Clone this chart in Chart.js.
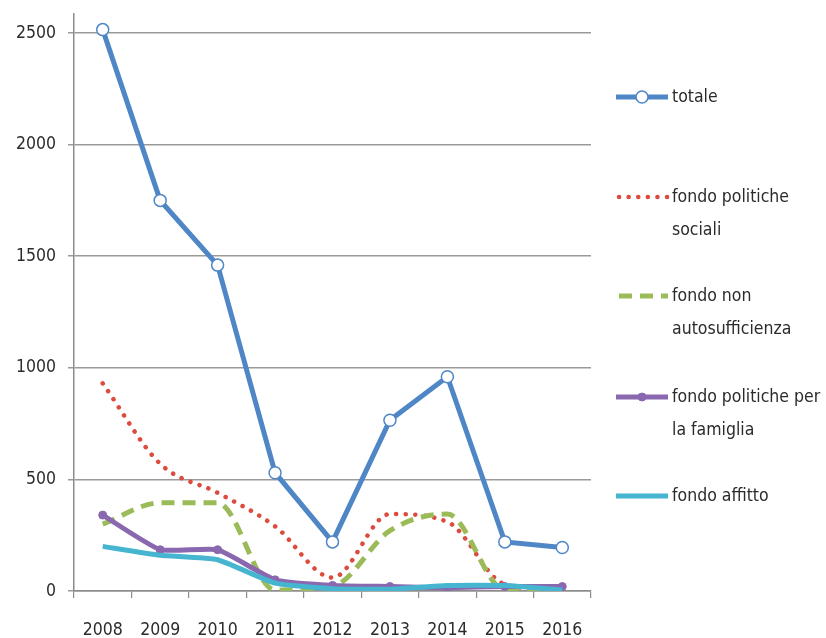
<!DOCTYPE html>
<html>
<head>
<meta charset="utf-8">
<script src="https://cdn.jsdelivr.net/npm/chart.js@4/dist/chart.umd.min.js"></script>
<style>
  html, body { margin: 0; padding: 0; background: #fff; }
  #wrap { width: 826px; height: 638px; }
</style>
</head>
<body>
<div id="wrap"><canvas id="c" width="826" height="638"></canvas></div>
<script>
const years = ['2008', '2009', '2010', '2011', '2012', '2013', '2014', '2015', '2016'];
const totale = [2515, 1750, 1460, 530, 220, 765, 960, 220, 195];
const politicheSociali = [930, 570, 440, 290, 60, 345, 310, 30, 5];
const nonAutosufficienza = [300, 395, 395, 5, 20, 270, 345, 5, 0];
const politicheFamiglia = [340, 185, 185, 50, 25, 20, 15, 20, 20];
const affitto = [200, 160, 140, 35, 10, 8, 25, 25, 5];
const legendLabels = [['totale'], ['fondo politiche', 'sociali'], ['fondo non', 'autosufficienza'],
  ['fondo politiche per', 'la famiglia'], ['fondo affitto']];
const yTicks = [0, 500, 1000, 1500, 2000, 2500];

const FONT = '"DejaVu Sans Condensed", "Liberation Sans Narrow", sans-serif';

// legenda a destra, disegnata a mano (etichette su due righe)
const sideLegend = {
    id: 'sideLegend',
    afterDraw(chart) {
        const ctx = chart.ctx;
        const rows = [97, 197, 296, 397, 496];
        ctx.save();
        chart.data.datasets.forEach((ds, i) => {
            const y = rows[i];
            ctx.strokeStyle = ds.borderColor;
            ctx.lineWidth = ds.borderWidth;
            ctx.lineCap = ds.borderCapStyle || 'butt';
            ctx.setLineDash(ds.borderDash || []);
            ctx.beginPath();
            ctx.moveTo(ds.borderDash ? 619 : 616, y);
            ctx.lineTo(668, y);
            ctx.stroke();
            ctx.setLineDash([]);
            if (ds.pointRadius > 0) {
                ctx.beginPath();
                ctx.arc(642, y, ds.pointRadius, 0, Math.PI * 2);
                ctx.fillStyle = ds.pointBackgroundColor;
                ctx.fill();
                ctx.lineWidth = ds.pointBorderWidth;
                ctx.strokeStyle = ds.pointBorderColor;
                ctx.stroke();
            }
            ctx.fillStyle = '#2b2b2b';
            ctx.font = '17.5px ' + FONT;
            ctx.textBaseline = 'middle';
            legendLabels[i].forEach((t, k) => ctx.fillText(t, 672, y + k * 33));
        });
        ctx.restore();
    }
};

new Chart(document.getElementById('c'), {
    type: 'line',
    data: {
        labels: years,
        datasets: [{
            label: 'totale',
            data: totale,
            borderColor: '#4f86c6',
            borderWidth: 5,
            tension: 0,
            pointRadius: 6,
            pointBackgroundColor: '#ffffff',
            pointBorderColor: '#4f86c6',
            pointBorderWidth: 1.5,
            order: 5
        }, {
            label: 'fondo politiche sociali',
            data: politicheSociali,
            borderColor: '#dd4b3e',
            borderWidth: 4.5,
            borderDash: [0.1, 9.5],
            borderCapStyle: 'round',
            cubicInterpolationMode: 'monotone',
            pointRadius: 0,
            order: 4
        }, {
            label: 'fondo non autosufficienza',
            data: nonAutosufficienza,
            borderColor: '#9bbb59',
            borderWidth: 5,
            borderDash: [13, 8],
            cubicInterpolationMode: 'monotone',
            pointRadius: 0,
            order: 3
        }, {
            label: 'fondo politiche per la famiglia',
            data: politicheFamiglia,
            borderColor: '#8a68b0',
            borderWidth: 5,
            tension: 0.15,
            pointRadius: 4,
            pointBackgroundColor: '#8a68b0',
            pointBorderColor: '#8a68b0',
            pointBorderWidth: 1,
            order: 2
        }, {
            label: 'fondo affitto',
            data: affitto,
            borderColor: '#45b5d0',
            borderWidth: 5,
            tension: 0.15,
            pointRadius: 0,
            order: 1
        }]
    },
    options: {
        responsive: false,
        animation: false,
        layout: { padding: { top: 14, right: 235, left: 0, bottom: 0 } },
        plugins: { legend: { display: false }, tooltip: { enabled: false } },
        scales: {
            x: {
                offset: true,
                grid: { display: true, offset: true, drawOnChartArea: false, color: '#8c8c8c', tickLength: 7, lineWidth: 1.2 },
                border: { color: '#8c8c8c', width: 1.5 },
                ticks: { color: '#2b2b2b', font: { family: FONT, size: 17.5 }, padding: 22, maxRotation: 0 },
                afterFit: s => { s.height = 47; s.paddingLeft = 0; s.paddingRight = 0; }
            },
            y: {
                min: 0,
                max: 2585,
                afterBuildTicks: s => { s.ticks = yTicks.map(v => ({ value: v })); },
                grid: { color: '#9a9a9a', lineWidth: 1.5, tickLength: 6 },
                border: { color: '#8c8c8c', width: 1.5 },
                ticks: { color: '#2b2b2b', font: { family: FONT, size: 17.5 }, padding: 12, callback: v => String(v) },
                afterFit: s => { s.width = 74; s.paddingTop = 0; s.paddingBottom = 0; }
            }
        }
    },
    plugins: [sideLegend]
});
</script>
</body>
</html>
